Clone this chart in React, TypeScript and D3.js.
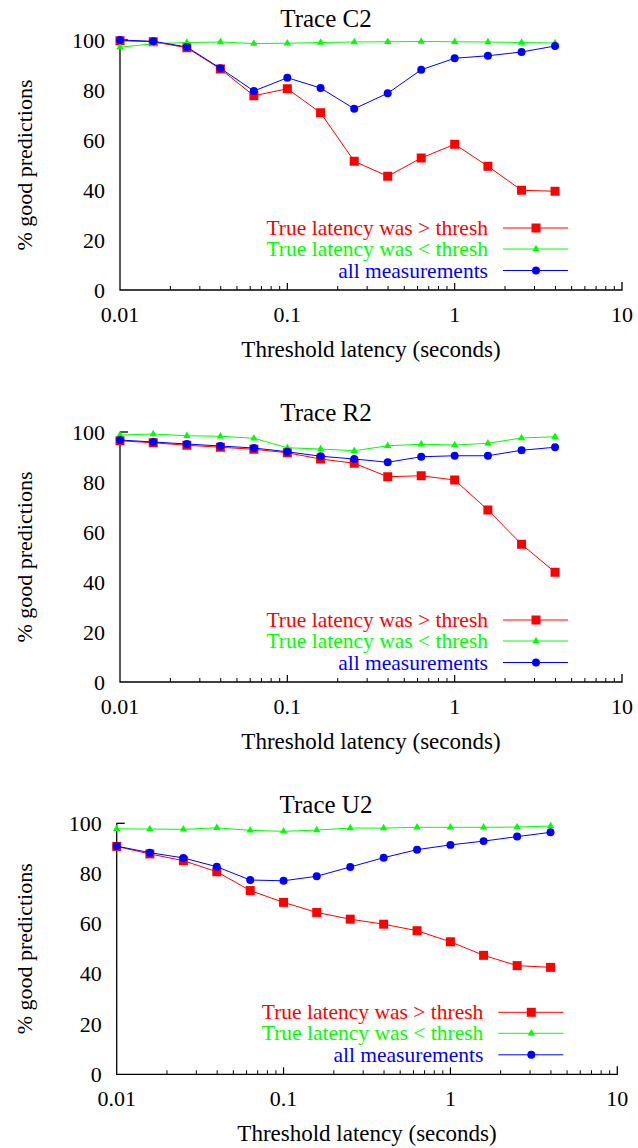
import React, { useEffect, useRef } from 'react'
import * as d3 from 'd3'

// threshold latency (seconds), 5 points per decade
const thresholds = [0.01, 0.0158, 0.0251, 0.0398, 0.0631, 0.1, 0.158, 0.251, 0.398, 0.631, 1, 1.58, 2.51, 3.98]

// Trace C2
const c2Above = [99.7, 99.3, 96.9, 88.4, 77.7, 80.5, 70.9, 51.5, 45.5, 52.8, 58.3, 49.5, 39.9, 39.5]
const c2Below = [97.1, 98.5, 99.0, 99.2, 98.6, 98.7, 99.0, 99.2, 99.3, 99.4, 99.3, 99.2, 99.0, 98.8]
const c2All = [100, 99.5, 97.2, 88.7, 79.6, 84.9, 80.8, 72.5, 78.7, 88.1, 92.7, 93.7, 95.2, 97.6]

// Trace R2
const r2Above = [96.5, 95.7, 94.7, 93.9, 93.1, 91.7, 89.2, 87.5, 82.1, 82.5, 80.8, 68.8, 55.1, 43.9]
const r2Below = [98.8, 99.2, 98.5, 98.3, 97.5, 93.7, 93.2, 92.5, 94.5, 95.1, 94.8, 95.5, 97.6, 98.1]
const r2All = [96.8, 96.0, 95.2, 94.4, 93.6, 92.1, 90.3, 89.2, 87.9, 90.1, 90.5, 90.5, 92.7, 93.9]

// Trace U2
const u2Above = [90.8, 87.8, 85.1, 80.7, 73.2, 68.5, 64.5, 61.8, 59.8, 57.2, 52.8, 47.4, 43.3, 42.6]
const u2Below = [97.8, 97.7, 97.6, 98.2, 97.2, 96.8, 97.3, 98.1, 98.1, 98.4, 98.4, 98.4, 98.5, 98.9]
const u2All = [90.9, 88.3, 86.2, 82.7, 77.4, 77.1, 78.9, 82.6, 86.3, 89.5, 91.4, 92.9, 94.7, 96.4]

const titles = ['Trace C2', 'Trace R2', 'Trace U2']
const seriesNames = ['True latency was > thresh', 'True latency was < thresh', 'all measurements']
const yTicks = [0, 20, 40, 60, 80, 100]
const xTickLabels = ['0.01', '0.1', '1', '10']

const colors = ['#ff0000', '#00ff00', '#0000ff']
const symbols = [d3.symbolSquare, d3.symbolTriangle, d3.symbolCircle]
const symbolSizes = [81, 24, 50]

// plot frames (pixels): left, right, top (y=100), bottom (y=0)
const frames = [
  { left: 120, right: 622, top: 40, bottom: 290, titleY: 27 },
  { left: 120, right: 622, top: 432, bottom: 682, titleY: 421 },
  { left: 116.7, right: 617.3, top: 823.3, bottom: 1074.3, titleY: 813 }
]

const panelData = [
  [c2Above, c2Below, c2All],
  [r2Above, r2Below, r2All],
  [u2Above, u2Below, u2All]
]

const font = "'Liberation Serif', 'DejaVu Serif', 'Times New Roman', Times, serif"

function App () {
  const root = useRef<SVGSVGElement>(null)

  useEffect(() => {
    const svg = d3.select(root.current)
    svg.selectAll('*').remove()

    frames.forEach((f, p) => {
      const x = d3.scaleLog().domain([0.01, 10]).range([f.left, f.right])
      const y = d3.scaleLinear().domain([0, 100]).range([f.bottom, f.top])
      const g = svg.append('g').attr('font-family', font)

      // title
      g.append('text')
        .attr('x', 326)
        .attr('y', f.titleY)
        .attr('text-anchor', 'middle')
        .attr('font-size', 25)
        .text(titles[p])

      // axes (left + bottom only)
      g.append('path')
        .attr('d', `M${f.left},${y(100)}V${f.bottom}H${f.right}V${f.bottom - 8}`)
        .attr('fill', 'none')
        .attr('stroke', '#000')
        .attr('stroke-width', 1.3)
      g.append('line')
        .attr('x1', f.left).attr('x2', f.left + 8)
        .attr('y1', y(100)).attr('y2', y(100))
        .attr('stroke', '#000').attr('stroke-width', 1.3)

      // y tick labels
      g.selectAll('.ytl').data(yTicks).enter()
        .append('text')
        .attr('x', f.left - 15)
        .attr('y', (d) => y(d) + 7.5)
        .attr('text-anchor', 'end')
        .attr('font-size', 22)
        .text((d) => d)

      // x ticks, major + minor, drawn inward
      const minor: number[] = []
      for (let e = -2; e < 1; e++) {
        for (let m = 2; m <= 9; m++) minor.push(m * Math.pow(10, e))
      }
      g.selectAll('.xmin').data(minor).enter()
        .append('line')
        .attr('x1', (d) => x(d)).attr('x2', (d) => x(d))
        .attr('y1', f.bottom).attr('y2', f.bottom - 4)
        .attr('stroke', '#000').attr('stroke-width', 1)
      g.selectAll('.xmaj').data([0.1, 1]).enter()
        .append('line')
        .attr('x1', (d) => x(d)).attr('x2', (d) => x(d))
        .attr('y1', f.bottom).attr('y2', f.bottom - 7)
        .attr('stroke', '#000').attr('stroke-width', 1.2)
      g.selectAll('.xtl').data(xTickLabels).enter()
        .append('text')
        .attr('x', (d) => x(+d))
        .attr('y', f.bottom + 32)
        .attr('text-anchor', 'middle')
        .attr('font-size', 22)
        .text((d) => d)

      // axis labels
      g.append('text')
        .attr('x', (f.left + f.right) / 2)
        .attr('y', f.bottom + 67)
        .attr('text-anchor', 'middle')
        .attr('font-size', 23)
        .text('Threshold latency (seconds)')
      g.append('text')
        .attr('transform', `translate(32,${(f.top + f.bottom) / 2}) rotate(-90)`)
        .attr('text-anchor', 'middle')
        .attr('font-size', 22)
        .text('% good predictions')

      // series
      const line = d3.line<number>()
        .x((d, i) => x(thresholds[i]))
        .y((d) => y(d))
      panelData[p].forEach((vals, s) => {
        const sg = g.append('g')
        sg.append('path')
          .attr('d', line(vals))
          .attr('fill', 'none')
          .attr('stroke', colors[s])
          .attr('stroke-width', 1)
        sg.selectAll('path.m').data(vals).enter()
          .append('path')
          .attr('class', 'm')
          .attr('transform', (d, i) => `translate(${x(thresholds[i])},${y(d)})`)
          .attr('d', d3.symbol().type(symbols[s]).size(symbolSizes[s])())
          .attr('fill', colors[s])
      })

      // legend
      const rows = [62, 41, 19.5]
      seriesNames.forEach((name, s) => {
        const ly = f.bottom - rows[s]
        g.append('text')
          .attr('x', f.right - 134)
          .attr('y', ly + 7)
          .attr('text-anchor', 'end')
          .attr('font-size', 21.5)
          .attr('fill', colors[s])
          .text(name)
        g.append('line')
          .attr('x1', f.right - 119).attr('x2', f.right - 54)
          .attr('y1', ly).attr('y2', ly)
          .attr('stroke', colors[s]).attr('stroke-width', 1)
        g.append('path')
          .attr('transform', `translate(${f.right - 86},${ly})`)
          .attr('d', d3.symbol().type(symbols[s]).size(symbolSizes[s])())
          .attr('fill', colors[s])
      })
    })
  }, [])

  return (
    <svg
      ref={root}
      width={638}
      height={1148}
      style={{ position: 'absolute', left: 0, top: 0, background: '#fff' }}
    />
  )
}

export default App
